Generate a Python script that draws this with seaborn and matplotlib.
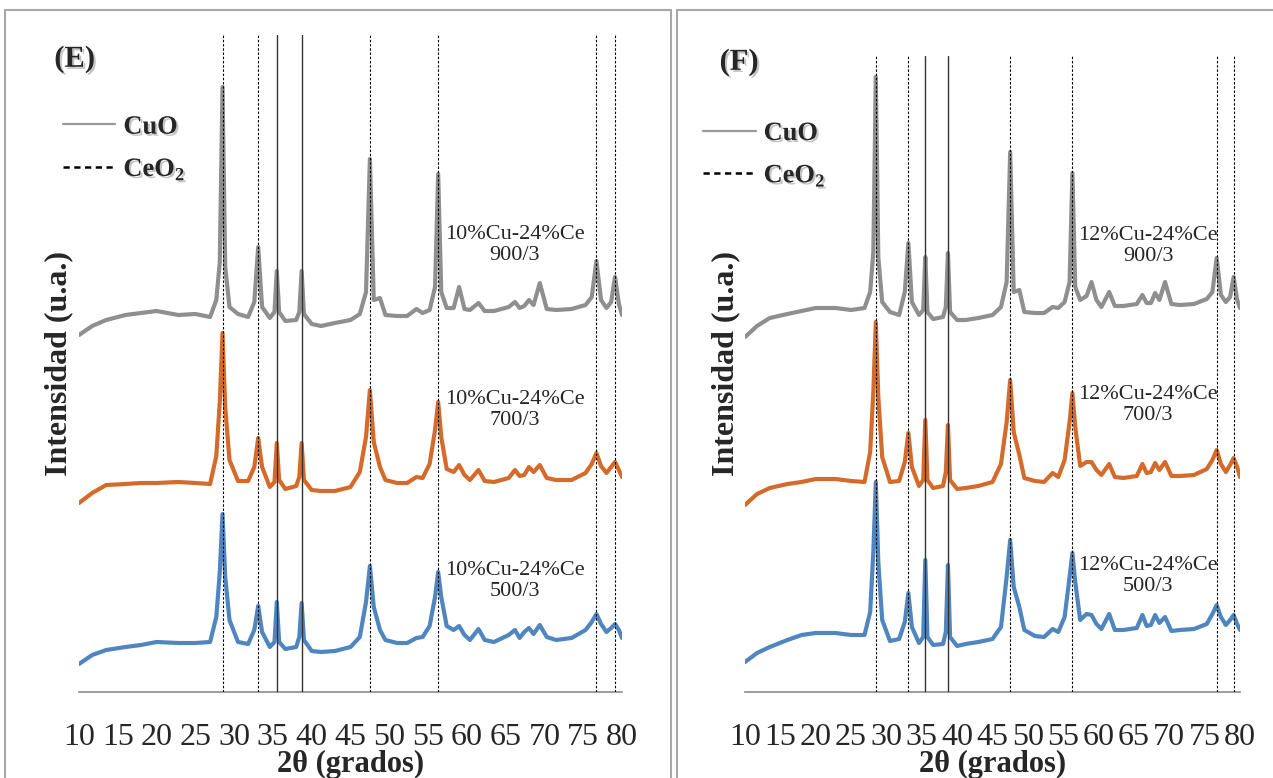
import pandas as pd
import seaborn as sns
import matplotlib.pyplot as plt
import matplotlib.patheffects as pe
from matplotlib.lines import Line2D
from matplotlib.patches import Rectangle

# 2theta grid (degrees) shared by all patterns
two_theta = [10, 11.7, 13.5, 16, 18, 20, 22.8, 25, 26.9, 27.7, 28.15, 28.5, 28.85, 29.4, 30.5,
             31.8, 32.6, 33.1, 33.6, 34.6, 35.2, 35.5, 35.8, 36.6, 38.0, 38.4, 38.7, 39.0, 40.0,
             41.2, 43.0, 45.0, 46.2, 47.0, 47.5, 48.0, 48.8, 49.5, 51.0, 52.3, 53.5, 54.3, 55.2,
             55.9, 56.3, 56.7, 57.4, 58.3, 59.0, 59.7, 60.4, 61.5, 62.3, 63.5, 65.4, 66.2, 66.8,
             67.4, 68.0, 68.6, 69.4, 70.3, 71.5, 73.5, 75.3, 76.1, 76.7, 77.3, 78.0, 78.6, 79.1,
             79.6, 80]

# panel (E) 10%Cu-24%Ce, intensities in a.u. (stacked)
e_900 = [357, 366, 372, 377, 379, 381, 377, 378, 375, 392, 430, 605, 425, 385, 378,
         375, 390, 445, 385, 374, 380, 421, 380, 371, 372, 380, 421, 378, 368,
         366, 369, 372, 378, 400, 533, 392, 394, 377, 376, 376, 383, 379, 382,
         405, 518, 400, 384, 384, 405, 383, 382, 389, 381, 381, 385, 390, 384,
         386, 392, 387, 409, 383, 382, 383, 387, 395, 431, 392, 384, 390, 415,
         388, 377]
e_700 = [189, 199, 207, 208, 209, 209, 210, 209, 208, 236, 290, 359, 285, 232, 211,
         211, 225, 254, 225, 205, 210, 249, 212, 203, 206, 215, 249, 212, 202,
         201, 201, 205, 220, 255, 302, 250, 225, 212, 209, 209, 215, 214, 228,
         262, 290, 255, 223, 220, 227, 217, 212, 222, 211, 210, 214, 222, 216,
         217, 225, 220, 227, 214, 212, 212, 219, 228, 239, 226, 219, 225, 230,
         222, 215]
e_500 = [28, 37, 42, 45, 47, 50, 49, 49, 50, 75, 120, 178, 115, 72, 50,
         48, 62, 86, 60, 45, 50, 90, 50, 43, 45, 55, 89, 52, 41,
         40, 41, 45, 55, 90, 126, 85, 62, 52, 49, 49, 54, 55, 66,
         95, 120, 95, 66, 62, 66, 57, 52, 63, 52, 50, 57, 62, 54,
         60, 64, 58, 67, 55, 52, 54, 62, 70, 78, 68, 60, 64, 68,
         62, 54]

# panel (F) 12%Cu-24%Ce
f_900 = [355, 366, 374, 378, 381, 384, 384, 382, 384, 400, 440, 615, 435, 390, 380,
         377, 400, 449, 390, 377, 382, 435, 380, 373, 375, 385, 439, 380, 372,
         372, 374, 377, 385, 410, 540, 400, 402, 380, 379, 379, 385, 384, 390,
         410, 519, 405, 392, 396, 410, 392, 385, 400, 386, 386, 388, 397, 389,
         389, 399, 392, 410, 388, 387, 388, 393, 400, 434, 397, 390, 395, 415,
         392, 384]
f_700 = [187, 198, 204, 208, 210, 213, 213, 211, 210, 240, 300, 370, 295, 235, 210,
         211, 230, 259, 225, 206, 212, 272, 212, 204, 206, 220, 267, 212, 203,
         204, 206, 210, 228, 270, 312, 260, 237, 214, 211, 210, 219, 215, 232,
         270, 299, 265, 226, 230, 230, 222, 217, 228, 215, 214, 216, 228, 219,
         220, 229, 222, 230, 216, 216, 217, 223, 232, 242, 228, 220, 227, 234,
         225, 215]
f_500 = [30, 39, 45, 52, 57, 59, 59, 57, 57, 80, 140, 210, 130, 72, 51,
         53, 70, 99, 65, 49, 55, 132, 55, 47, 48, 60, 127, 55, 46,
         48, 50, 53, 65, 115, 152, 105, 85, 62, 56, 55, 63, 60, 75,
         115, 139, 110, 72, 78, 77, 68, 63, 78, 62, 62, 64, 77, 66,
         67, 77, 69, 75, 61, 62, 63, 68, 78, 87, 75, 67, 72, 77,
         68, 62]

cuo_lines = [35.5, 38.7]
ceo2_lines = [28.5, 33.1, 47.5, 56.3, 76.7, 79.1]
x_ticks = list(range(10, 81, 5))
series_names = ['900/3', '700/3', '500/3']
palette = {'900/3': '#8f8f8f', '700/3': '#d46b2b', '500/3': '#4f86c0'}

sns.set_style('white')
plt.rcParams['font.family'] = ['Liberation Serif', 'DejaVu Serif']
plt.rcParams['mathtext.fontset'] = 'custom'
plt.rcParams['mathtext.rm'] = 'Liberation Serif'
plt.rcParams['mathtext.bf'] = 'Liberation Serif:bold'

W, H = 1273, 778
fig = plt.figure(figsize=(W / 100, H / 100), dpi=100)

# grey frames around each panel
for x0, x1 in [(5, 671), (677, 1300)]:
    fig.patches.append(Rectangle((x0 / W, -0.1), (x1 - x0) / W, 0.1 + (H - 10) / H,
                                 transform=fig.transFigure, fill=False,
                                 ec='#a8a8a8', lw=1.5))

shadow = [pe.withSimplePatchShadow(offset=(1.5, -1.5), shadow_rgbFace='#808080', alpha=0.45)]


def draw_panel(ax, traces, prefix, tag, ymax, label_x, label_y, tag_xy, leg_xy, ylab_x):
    df = pd.DataFrame({'2theta': two_theta * 3,
                       'intensidad': sum(traces, []),
                       'serie': [n for n in series_names for _ in two_theta]})
    sns.lineplot(data=df, x='2theta', y='intensidad', hue='serie', hue_order=series_names,
                 palette=palette, lw=3.0, legend=False, estimator=None, ax=ax)
    for p in ceo2_lines:
        ax.axvline(p, color='black', lw=0.8, ls=(0, (2.2, 1.6)), zorder=5)
    for p in cuo_lines:
        ax.axvline(p, color='#333333', lw=1.0, zorder=5)

    for name, ly in zip(series_names, label_y):
        ax.text(label_x, ly, f'{prefix}\n{name}', ha='center', va='center',
                fontsize=16, linespacing=1.1)

    ax.set_xlim(10, 80)
    ax.set_ylim(0, ymax)
    ax.set_xticks(x_ticks)
    ax.set_yticks([])
    for s in ['left', 'top', 'right']:
        ax.spines[s].set_visible(False)
    ax.spines['bottom'].set_color('#8c8c8c')
    ax.spines['bottom'].set_linewidth(1.2)
    ax.tick_params(axis='x', length=0, pad=22, labelsize=23)

    ax.set_xlabel('2θ (grados)', fontsize=22, fontweight='bold')
    ax.xaxis.set_label_coords(0.5, -72 / ax.bbox.height)
    ax.xaxis.label.set_va('center')
    ax.set_ylabel('Intensidad (u.a.)', fontsize=23, fontweight='bold')
    ax.yaxis.set_label_coords(ylab_x, (692 - 364) / ymax)
    ax.yaxis.label.set_va('center')

    ax.text(tag_xy[0], tag_xy[1], tag, transform=ax.transAxes, fontsize=22,
            fontweight='bold', ha='center', va='center', path_effects=shadow)

    handles = [Line2D([], [], color='#9a9a9a', lw=1.6),
               Line2D([], [], color='black', lw=1.8, ls=(0, (2.5, 1.8)))]
    leg = ax.legend(handles, ['CuO', r'CeO$_\mathbf{2}$'], loc='upper left',
                    bbox_to_anchor=leg_xy, frameon=False,
                    prop={'weight': 'bold', 'size': 19}, handlelength=2.0,
                    handletextpad=0.3, labelspacing=0.7, borderpad=0, borderaxespad=0)
    for t in leg.get_texts():
        t.set_path_effects(shadow)


ax_e = fig.add_axes([79 / W, 86 / H, 543 / W, 657 / H])
draw_panel(ax_e, [e_900, e_700, e_500], '10%Cu-24%Ce', '(E)', 657,
           66.2, [447, 282, 111], (-0.008, 0.963), (-0.03, 0.878), -0.037)

ax_f = fig.add_axes([745 / W, 86 / H, 495 / W, 636 / H])
draw_panel(ax_f, [f_900, f_700, f_500], '12%Cu-24%Ce', '(F)', 636,
           67.0, [446, 287, 116], (-0.012, 0.99), (-0.085, 0.897), -0.038)

fig.savefig('out.png', dpi=100)
